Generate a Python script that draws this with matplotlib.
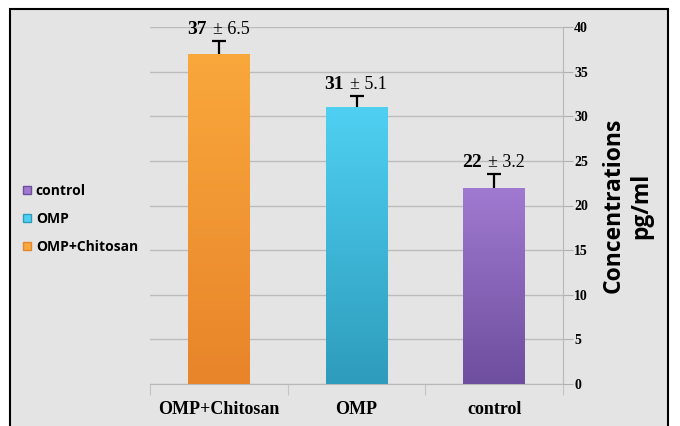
import matplotlib
matplotlib.use("Agg")
import matplotlib.pyplot as plt
import numpy as np
from matplotlib.patches import Rectangle
from matplotlib.lines import Line2D
from matplotlib.colors import LinearSegmentedColormap

categories = ["OMP+Chitosan", "OMP", "control"]
values = [37, 31, 22]
sd_labels = ["6.5", "5.1", "3.2"]
drawn_err = [1.4, 1.3, 1.5]
yticks = [0, 5, 10, 15, 20, 25, 30, 35, 40]
legend_order = ["control", "OMP", "OMP+Chitosan"]

top_colors = ["#f9a83c", "#4fd0f2", "#a07ad0"]
bot_colors = ["#e8842a", "#2e9cbc", "#6e4e9e"]

fig = plt.figure(figsize=(6.8, 4.26), dpi=100)
fig.patch.set_facecolor("white")
frame = Rectangle((10/680, -0.1), (668-10)/680, 1 - 9/426 + 0.1,
                  transform=fig.transFigure, facecolor="#e4e4e4",
                  edgecolor="black", linewidth=1.5, zorder=-10)
fig.patches.append(frame)

ax = fig.add_axes([150/680, 1-384/426, (563-150)/680, (384-27)/426])
ax.set_zorder(5)
ax.set_facecolor("none")
x = np.arange(len(categories))
width = 0.45
bars = ax.bar(x, values, width=width, color="none", edgecolor="none", zorder=3)
grad = np.linspace(0, 1, 256).reshape(-1, 1)
for i, b in enumerate(bars):
    cmap = LinearSegmentedColormap.from_list("g", [bot_colors[i], top_colors[i]])
    im = ax.imshow(grad, extent=[b.get_x(), b.get_x()+b.get_width(), 0, b.get_height()],
                   origin="lower", aspect="auto", cmap=cmap, zorder=3)
    im.set_clip_path(b)
    ax.add_patch(Rectangle((b.get_x(), b.get_height()-0.25), b.get_width(), 0.25,
                           facecolor=top_colors[i], edgecolor="none", alpha=0.6, zorder=4))
eb = ax.errorbar(x, values, yerr=[np.zeros(3), drawn_err], fmt="none", ecolor="black",
                 elinewidth=1.6, capsize=5, capthick=1.6, zorder=5)
eb[1][0].set_visible(False)

for i in range(len(categories)):
    ypix = values[i] + drawn_err[i] + 0.35
    ax.annotate(str(values[i]), xy=(x[i], ypix), xytext=(-9, 0), textcoords="offset points",
                ha="right", va="bottom", fontsize=14, fontweight="bold",
                family="Liberation Serif", zorder=6)
    ax.annotate("\u00b1 " + sd_labels[i], xy=(x[i], ypix), xytext=(-4.5, 0), textcoords="offset points",
                ha="left", va="bottom", fontsize=13, family="Liberation Serif", zorder=6)

ax.set_xlim(-0.5, 2.5)
ax.set_ylim(0, 40)
ax.yaxis.tick_right()
ax.yaxis.set_label_position("right")
ax.set_yticks(yticks)
ax.set_yticklabels([str(t) for t in yticks], fontsize=10, fontweight="bold",
                   family="Liberation Serif")
ax.tick_params(axis="y", length=7, color="#b0b0b0", pad=1)
ax.grid(axis="y", color="#bcbcbc", linewidth=1, zorder=1)
ax.set_axisbelow(True)
for s in ["top", "left"]:
    ax.spines[s].set_visible(False)
ax.spines["right"].set_color("#b8b8b8")
ax.spines["bottom"].set_color("#b8b8b8")
ax.set_xticks([-0.5, 0.5, 1.5, 2.5], minor=False)
ax.set_xticklabels([])
ax.set_xticks(x, minor=True)
ax.set_xticklabels(categories, minor=True, fontsize=13, fontweight="bold",
                   family="Liberation Serif")
ax.tick_params(axis="x", which="major", length=8, color="#c4c4c4")
ax.tick_params(axis="x", which="minor", length=0, pad=12)

ax.set_ylabel("Concentrations\npg/ml", fontsize=16.5, fontweight="bold", family="Open Sans",
              rotation=90, labelpad=10, linespacing=1.2)

handles = [Line2D([], [], marker="s", linestyle="none", markersize=6,
                  markerfacecolor=top_colors[categories.index(n)],
                  markeredgecolor=bot_colors[categories.index(n)]) for n in legend_order]
fig.legend(handles, legend_order, loc="center left", bbox_to_anchor=(8/680, 1-219/426),
           frameon=False, prop={"family": "Open Sans", "weight": "bold", "size": 10},
           handletextpad=0.1, labelspacing=1.0, handlelength=1.0)

fig.savefig("out.png", dpi=100)
